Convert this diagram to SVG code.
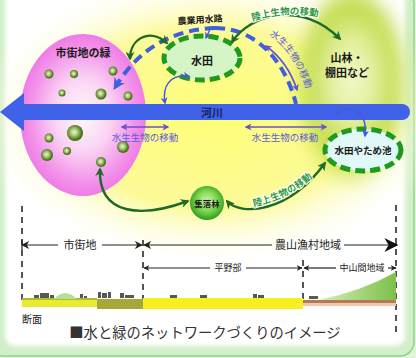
<svg xmlns="http://www.w3.org/2000/svg" width="416" height="358" viewBox="0 0 416 358">
  <style>
    .jp { font-family: "Noto Sans CJK JP", "Noto Sans", sans-serif; }
    .lbl { font-size: 11px; font-weight: 700; fill: #1a1a1a; text-anchor: middle; }
    .aqua { font-size: 9.5px; fill: #5a5fd6; text-anchor: middle; }
    .land { font-size: 9.5px; fill: #2f9a3a; stroke: #ffffff; stroke-width: 2.2px; paint-order: stroke; font-weight: 700; }
    .green-arrow { fill: none; stroke: #1e6a28; stroke-width: 2.4; marker-start: url(#gHead); marker-end: url(#gHead); }
    .aqua-arrow { fill: none; stroke: #6a50c8; stroke-width: 1.6; marker-start: url(#pHead); marker-end: url(#pHead); }
    .thin-blue { fill: none; stroke: #4a58d8; stroke-width: 1.5; marker-start: url(#bHeadS); marker-end: url(#bHeadS); }
    .paddy { stroke: #1f9a1a; stroke-width: 5; stroke-dasharray: 10 5; }
    .dot { fill: url(#sphere); }
    .vdash { stroke: #2a2a2a; stroke-width: 1.6; stroke-dasharray: 6 5; fill: none; }
    .dim { stroke: #222; stroke-width: 1.2; fill: none; }
    .dimtxt { font-size: 11px; fill: #222; text-anchor: middle; }
    .dimtxt-s { font-size: 9px; fill: #222; text-anchor: middle; }
    .bldg { fill: #555a4a; }
  </style>
  <defs>
    <radialGradient id="yellowGlow" cx="0.5" cy="0.5" r="0.5">
      <stop offset="0" stop-color="#ffff78"/>
      <stop offset="0.6" stop-color="#fcfa98"/>
      <stop offset="1" stop-color="#ffffff" stop-opacity="0"/>
    </radialGradient>
    <radialGradient id="hillGlow" cx="0.5" cy="0.42" r="0.5">
      <stop offset="0" stop-color="#f4f9d0"/>
      <stop offset="0.4" stop-color="#e2f09a"/>
      <stop offset="0.72" stop-color="#bcd83c"/>
      <stop offset="1" stop-color="#c8e050" stop-opacity="0"/>
    </radialGradient>
    <radialGradient id="pinkGrad" cx="0.5" cy="0.5" r="0.5">
      <stop offset="0" stop-color="#fefafc"/>
      <stop offset="0.45" stop-color="#fad4f4"/>
      <stop offset="0.82" stop-color="#f394ea"/>
      <stop offset="1" stop-color="#ef7ce6"/>
    </radialGradient>
    <radialGradient id="sphere" cx="0.45" cy="0.45" r="0.55">
      <stop offset="0" stop-color="#eef6dc"/>
      <stop offset="0.4" stop-color="#aacb7a"/>
      <stop offset="0.8" stop-color="#56801e"/>
      <stop offset="1" stop-color="#3c6410"/>
    </radialGradient>
    <radialGradient id="forest" cx="0.5" cy="0.45" r="0.55">
      <stop offset="0" stop-color="#d6f6b4"/>
      <stop offset="0.55" stop-color="#7ed650"/>
      <stop offset="1" stop-color="#2e9a1e"/>
    </radialGradient>
    <linearGradient id="mount" x1="0" y1="0" x2="1" y2="0">
      <stop offset="0" stop-color="#d8eeb8"/>
      <stop offset="1" stop-color="#7cc04a"/>
    </linearGradient>
    <filter id="soft" x="-5%" y="-5%" width="110%" height="110%">
      <feGaussianBlur stdDeviation="2"/>
    </filter>
    <filter id="haze" x="-30%" y="-30%" width="160%" height="160%">
      <feGaussianBlur stdDeviation="9"/>
    </filter>
    <marker id="gHead" viewBox="0 0 10 10" refX="8" refY="5" markerWidth="9" markerHeight="9" markerUnits="userSpaceOnUse" orient="auto-start-reverse">
      <path d="M0,0 L10,5 L0,10 L3,5 Z" fill="#1e6a28"/>
    </marker>
    <marker id="pHead" viewBox="0 0 10 10" refX="8" refY="5" markerWidth="7" markerHeight="7" markerUnits="userSpaceOnUse" orient="auto-start-reverse">
      <path d="M0,0 L10,5 L0,10 L3,5 Z" fill="#6a50c8"/>
    </marker>
    <marker id="bHeadS" viewBox="0 0 10 10" refX="8" refY="5" markerWidth="7" markerHeight="7" markerUnits="userSpaceOnUse" orient="auto-start-reverse">
      <path d="M0,0 L10,5 L0,10 L3,5 Z" fill="#4a58d8"/>
    </marker>
    <marker id="chHead" viewBox="0 0 10 10" refX="6" refY="5" markerWidth="12" markerHeight="12" markerUnits="userSpaceOnUse" orient="auto">
      <path d="M0,0 L10,5 L0,10 L3,5 Z" fill="#3d5fe0"/>
    </marker>
    <marker id="kHead" viewBox="0 0 10 10" refX="9" refY="5" markerWidth="8" markerHeight="8" markerUnits="userSpaceOnUse" orient="auto-start-reverse">
      <path d="M0,0 L10,5 L0,10 L3,5 Z" fill="#222"/>
    </marker>
    <marker id="kHeadS" viewBox="0 0 10 10" refX="9" refY="5" markerWidth="6" markerHeight="6" markerUnits="userSpaceOnUse" orient="auto-start-reverse">
      <path d="M0,0 L10,5 L0,10 L3,5 Z" fill="#222"/>
    </marker>
    <marker id="kHeadL" viewBox="0 0 10 10" refX="9" refY="5" markerWidth="14" markerHeight="14" markerUnits="userSpaceOnUse" orient="auto">
      <path d="M0,0 L10,5 L0,10 L3,5 Z" fill="#111"/>
    </marker>
    <path id="arcTop" d="M247,23 Q285,9 324,18"/>
    <path id="arcBot" d="M246,208 Q290,201 318,172"/>
    <path id="arcDiag" d="M272,37 Q293,52 305,86"/>
  </defs>

  <!-- panel frame -->
  <rect x="0" y="0" width="416" height="358" fill="#e2f4dc"/>
  <rect x="-10" y="-10" width="424" height="366" rx="14" fill="#d2efc9" stroke="#8ed486" stroke-width="1.5"/>
  <rect x="5" y="-10" width="400" height="356" rx="10" fill="#ffffff" filter="url(#soft)"/>

  <!-- background glows -->
  <ellipse cx="212" cy="118" rx="235" ry="150" fill="url(#yellowGlow)"/>
  <ellipse cx="352" cy="98" rx="60" ry="108" fill="url(#hillGlow)" filter="url(#haze)"/>

  <!-- urban green area -->
  <g id="urban-green">
    <ellipse cx="83" cy="115" rx="63" ry="81" fill="url(#pinkGrad)"/>
    <text class="jp lbl" x="83" y="57" font-size="12">市街地の緑</text>
    <circle class="dot" cx="49" cy="74" r="4.5"/>
    <circle class="dot" cx="74" cy="74" r="4"/>
    <circle class="dot" cx="113" cy="71" r="4.5"/>
    <circle class="dot" cx="62" cy="93" r="3.5"/>
    <circle class="dot" cx="101" cy="94" r="5.5"/>
    <circle class="dot" cx="128" cy="96" r="4.5"/>
    <circle class="dot" cx="75" cy="133" r="8"/>
    <circle class="dot" cx="49" cy="138" r="4.5"/>
    <circle class="dot" cx="67" cy="151" r="4"/>
    <circle class="dot" cx="47" cy="155" r="6"/>
    <circle class="dot" cx="123" cy="147" r="6"/>
    <circle class="dot" cx="101" cy="162" r="5"/>
  </g>

  <!-- river -->
  <g id="river">
    <path d="M22,104 H402 A8,8 0 0 1 402,120 H22 Z" fill="#3f62e8"/>
    <path d="M0,112 L24,93 L24,131 Z" fill="#3f62e8"/>
    <text class="jp" x="212" y="117" font-size="11" font-weight="700" fill="#17225a" text-anchor="middle">河川</text>
  </g>

  <!-- paddy field -->
  <g id="paddy">
    <ellipse class="paddy" cx="202" cy="58" rx="38" ry="22" fill="#d6f5c6"/>
    <text class="jp lbl" x="202" y="65" font-size="11.5">水田</text>
  </g>

  <!-- forest and terraced fields -->
  <g id="hills">
    <text class="jp lbl" x="347" y="62" font-size="11">山林・</text>
    <text class="jp lbl" x="347" y="77" font-size="11">棚田など</text>
  </g>

  <!-- paddy and pond -->
  <g id="pond">
    <ellipse class="paddy" cx="363" cy="150" rx="38" ry="21" fill="#e0f8f8"/>
    <text class="jp" x="363" y="154" font-size="9.5" font-weight="700" fill="#1a1a1a" text-anchor="middle">水田やため池</text>
  </g>

  <!-- village woodland -->
  <g id="village-wood">
    <circle cx="207" cy="203" r="17" fill="url(#forest)"/>
    <text class="jp" x="207" y="206.5" font-size="8.5" font-weight="700" fill="#1a1a1a" text-anchor="middle">集落林</text>
  </g>

  <!-- connectors -->
  <g id="connectors">
    <!-- irrigation channel -->
    <path d="M215,28 C255,28 285,60 296,104" fill="none" stroke="#3d5fe0" stroke-width="4" stroke-dasharray="10 6"/>
    <path d="M215,28 C165,30 135,55 116,86" fill="none" stroke="#3d5fe0" stroke-width="4" stroke-dasharray="10 6" marker-end="url(#chHead)"/>
    <text class="jp" x="200" y="23" font-size="9" font-weight="700" fill="#1a1a1a" text-anchor="middle" transform="rotate(-4 200 20)">農業用水路</text>
    <path d="M211,27 L206,38" fill="none" stroke="#4a58d8" stroke-width="1.4" marker-end="url(#bHeadS)"/>

    <!-- land animal movement -->
    <path class="green-arrow" d="M130,59 C130,38 150,28 167,43"/>
    <path class="green-arrow" d="M232,42 C250,14 302,0 340,39"/>
    <text class="jp land"><textPath href="#arcTop" startOffset="50%" text-anchor="middle">陸上生物の移動</textPath></text>
    <path class="green-arrow" d="M100,169 C98,216 142,218 188,201"/>
    <path class="green-arrow" d="M227,201 C240,216 288,214 325,163"/>
    <text class="jp land"><textPath href="#arcBot" startOffset="50%" text-anchor="middle">陸上生物の移動</textPath></text>

    <!-- aquatic life movement -->
    <path class="aqua-arrow" d="M122,127 H168"/>
    <text class="jp aqua" x="145" y="141">水生生物の移動</text>
    <path class="aqua-arrow" d="M246,127 H326"/>
    <text class="jp aqua" x="285" y="141">水生生物の移動</text>
    <path class="aqua-arrow" d="M266,46 Q288,62 297,90"/>
    <text class="jp aqua"><textPath href="#arcDiag" startOffset="50%" text-anchor="middle">水生生物の移動</textPath></text>

    <!-- water links -->
    <path class="thin-blue" d="M189,76 C170,74 162,86 165,103"/>
    <path class="thin-blue" d="M335,113 C350,104 368,110 365,136"/>
  </g>

  <!-- cross-section -->
  <g id="section">
    <line class="vdash" x1="22" y1="206" x2="22" y2="300"/>
    <line class="vdash" x1="143" y1="240" x2="143" y2="300"/>
    <line class="vdash" x1="303" y1="260" x2="303" y2="300"/>
    <line class="vdash" x1="396" y1="205" x2="396" y2="332"/>

    <line class="dim" x1="22" y1="240" x2="22" y2="250"/>
    <line class="dim" x1="22" y1="245" x2="58" y2="245" marker-start="url(#kHead)"/>
    <text class="jp dimtxt" x="80" y="249">市街地</text>
    <line class="dim" x1="102" y1="245" x2="142" y2="245" marker-end="url(#kHead)"/>
    <line class="dim" x1="144" y1="245" x2="272" y2="245" marker-start="url(#kHead)"/>
    <text class="jp dimtxt" x="308" y="249" font-size="10.5">農山漁村地域</text>
    <line class="dim" x1="344" y1="245" x2="397" y2="245" marker-end="url(#kHeadL)"/>

    <line class="dim" x1="144" y1="268" x2="210" y2="268" marker-start="url(#kHeadS)"/>
    <text class="jp dimtxt-s" x="228" y="271">平野部</text>
    <line class="dim" x1="246" y1="268" x2="302" y2="268" marker-end="url(#kHeadS)"/>
    <line class="dim" x1="304" y1="268" x2="336" y2="268" marker-start="url(#kHeadS)"/>
    <text class="jp dimtxt-s" x="362" y="271">中山間地域</text>
    <line class="dim" x1="388" y1="268" x2="396" y2="268" marker-end="url(#kHeadS)"/>

    <!-- ground profile -->
    <rect x="22" y="299" width="75" height="8" fill="#eaea30"/>
    <rect x="22" y="298" width="75" height="2" fill="#a8c030"/>
    <rect x="97" y="299" width="46" height="10" fill="#a8a83a"/>
    <rect x="143" y="298" width="160" height="11" fill="#f6f020"/>
    <path d="M54,299 Q65,287 77,299 Z" fill="#b6e096"/>
    <path d="M318,300 Q360,292 396,272 L396,301 Z" fill="url(#mount)"/>
    <rect x="303" y="300" width="93" height="3" fill="#b47a58"/>
    <rect x="303" y="303" width="93" height="3" fill="#f0c8b0"/>

    <rect class="bldg" x="34" y="295" width="5" height="3"/>
    <rect class="bldg" x="40" y="293" width="9" height="5"/>
    <rect class="bldg" x="50" y="295" width="4" height="3"/>
    <rect class="bldg" x="80" y="294" width="3" height="4"/>
    <rect class="bldg" x="84" y="296" width="3" height="2"/>
    <rect class="bldg" x="98" y="292" width="3" height="6"/>
    <rect class="bldg" x="102" y="293" width="5" height="5"/>
    <rect class="bldg" x="108" y="292" width="3" height="6"/>
    <rect class="bldg" x="120" y="293" width="4" height="5"/>
    <rect class="bldg" x="125" y="295" width="9" height="3"/>
    <rect class="bldg" x="170" y="295" width="7" height="3"/>
    <rect class="bldg" x="200" y="295" width="7" height="3"/>
    <rect class="bldg" x="253" y="294" width="4" height="4"/>
    <rect class="bldg" x="258" y="295" width="6" height="3"/>
    <rect class="bldg" x="309" y="296" width="9" height="3"/>

    <text class="jp" x="22" y="323" font-size="10" fill="#222">断面</text>
  </g>

  <text class="jp" x="205" y="338" font-size="14.3" fill="#333" text-anchor="middle">■水と緑のネットワークづくりのイメージ</text>
</svg>
